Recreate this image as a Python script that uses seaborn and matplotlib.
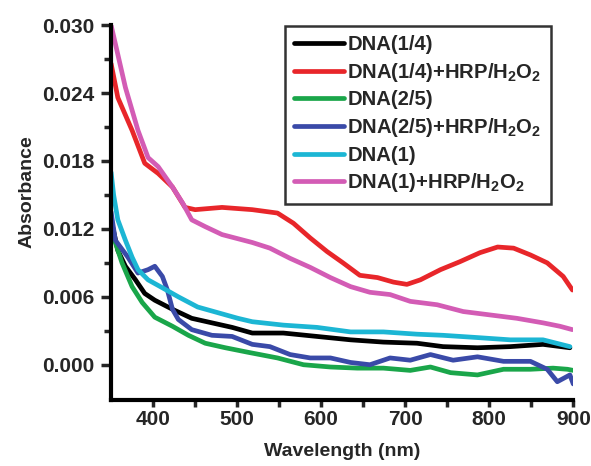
import numpy as np
import pandas as pd
import matplotlib
matplotlib.use("Agg")
import matplotlib.pyplot as plt
import seaborn as sns

# ---- data ----
wl_red = [350, 358, 375, 390, 406, 423, 438, 450, 482, 518, 548, 567, 587, 607, 626, 646, 667, 686, 702,
          718, 742, 765, 789, 810, 829, 849, 869, 888, 899]
abs_red = [0.0266, 0.0236, 0.0207, 0.0178, 0.0169, 0.0157, 0.0139, 0.0137, 0.0139, 0.0137, 0.0134, 0.0125,
           0.0112, 0.0100, 0.0090, 0.0079, 0.0077, 0.0073, 0.0071, 0.0075, 0.0084, 0.0091, 0.0099, 0.0104,
           0.0103, 0.0097, 0.0090, 0.0078, 0.0066]

wl_pink = [350, 367, 382, 394, 406, 423, 435, 446, 462, 482, 518, 539, 563, 587, 611, 635, 658, 682, 706,
           738, 769, 801, 833, 864, 884, 899]
abs_pink = [0.0300, 0.0245, 0.0207, 0.0183, 0.0175, 0.0157, 0.0143, 0.0128, 0.0122, 0.0115, 0.0108, 0.0103,
            0.0094, 0.0086, 0.0077, 0.0069, 0.0064, 0.0062, 0.0056, 0.0053, 0.0047, 0.0044, 0.0041, 0.0037,
            0.0034, 0.0031]

wl_cyan = [350, 353, 358, 367, 375, 382, 394, 411, 430, 453, 477, 501, 518, 555, 595, 635, 674, 714, 745,
           786, 825, 864, 896]
abs_cyan = [0.0170, 0.0150, 0.0128, 0.0110, 0.0095, 0.0084, 0.0075, 0.0068, 0.0060, 0.0051, 0.0046, 0.0041,
            0.0038, 0.0035, 0.0033, 0.0029, 0.0029, 0.0027, 0.0026, 0.0024, 0.0022, 0.0022, 0.0016]

wl_black = [350, 358, 367, 379, 390, 402, 423, 446, 470, 494, 518, 555, 595, 635, 674, 714, 745, 786, 825,
            864, 896]
abs_black = [0.0128, 0.0101, 0.0087, 0.0075, 0.0063, 0.0057, 0.0049, 0.0041, 0.0037, 0.0033, 0.0028, 0.0028,
             0.0025, 0.0022, 0.0020, 0.0019, 0.0016, 0.0015, 0.0016, 0.0018, 0.0015]

wl_green = [350, 355, 363, 375, 387, 402, 423, 442, 462, 486, 513, 548, 579, 611, 643, 674, 706, 730, 754,
            786, 817, 849, 876, 893, 900]
abs_green = [0.0125, 0.0108, 0.0090, 0.0069, 0.0055, 0.0042, 0.0034, 0.0026, 0.0019, 0.0015, 0.0011, 0.0006,
             0.0000, -0.0002, -0.0003, -0.0003, -0.0005, -0.0002, -0.0007, -0.0009, -0.0004, -0.0004,
             -0.0003, -0.0004, -0.0005]

wl_blue = [350, 355, 370, 382, 394, 402, 411, 417, 423, 430, 446, 470, 494, 518, 539, 563, 587, 611, 635,
           658, 682, 706, 730, 757, 786, 817, 849, 869, 881, 896, 900]
abs_blue = [0.0135, 0.0110, 0.0095, 0.0081, 0.0084, 0.0087, 0.0078, 0.0066, 0.0049, 0.0040, 0.0031, 0.0026,
            0.0025, 0.0018, 0.0016, 0.0009, 0.0006, 0.0006, 0.0002, 0.0000, 0.0006, 0.0004, 0.0009, 0.0004,
            0.0007, 0.0003, 0.0003, -0.0004, -0.0015, -0.0009, -0.0017]

labels = ["DNA(1/4)", "DNA(1/4)+HRP/H$_2$O$_2$", "DNA(2/5)", "DNA(2/5)+HRP/H$_2$O$_2$",
          "DNA(1)", "DNA(1)+HRP/H$_2$O$_2$"]
colors = ["#000000", "#e8262a", "#1aa64a", "#3a4aa8", "#1cb6d4", "#d35cb5"]
series = [(wl_black, abs_black), (wl_red, abs_red), (wl_green, abs_green),
          (wl_blue, abs_blue), (wl_cyan, abs_cyan), (wl_pink, abs_pink)]

x_ticks = [400, 500, 600, 700, 800, 900]
y_ticks = [0.000, 0.006, 0.012, 0.018, 0.024, 0.030]

# ---- plotting ----
sns.set_theme(style="ticks")
plt.rcParams["font.family"] = ["Liberation Sans", "DejaVu Sans"]
plt.rcParams["font.weight"] = "bold"
plt.rcParams["mathtext.default"] = "bf"
plt.rcParams["mathtext.fontset"] = "custom"
plt.rcParams["mathtext.bf"] = "Liberation Sans:bold"
plt.rcParams["mathtext.rm"] = "Liberation Sans:bold"

fig = plt.figure(figsize=(5.91, 4.66), dpi=100)
ax = fig.add_axes([0.188, 0.142, 0.782, 0.804])

for (wl, ab), lab, col in zip(series, labels, colors):
    df = pd.DataFrame({"wl": wl, "abs": ab})
    sns.lineplot(data=df, x="wl", y="abs", ax=ax, color=col, lw=3.4, label=lab, sort=False)

ax.set_xlim(350, 900)
ax.set_ylim(-0.0031, 0.030)
ax.set_xticks(x_ticks)
ax.set_yticks(y_ticks)
ax.set_yticklabels([f"{v:.3f}" for v in y_ticks])
ax.set_xticks([450, 550, 650, 750, 850], minor=True)
ax.set_yticks([0.003, 0.009, 0.015, 0.021, 0.027], minor=True)
ax.tick_params(axis="y", which="major", direction="out", length=7, width=2.5, labelsize=15, pad=5)
ax.tick_params(axis="x", which="major", direction="out", length=5, width=2.5, labelsize=15, pad=2)
ax.tick_params(axis="both", which="minor", direction="out", length=5, width=2.5)
for lbl in ax.get_xticklabels() + ax.get_yticklabels():
    lbl.set_fontweight("bold")

sns.despine(ax=ax)
for s in ["left", "bottom"]:
    ax.spines[s].set_linewidth(3)
    ax.spines[s].set_color("black")

ax.set_xlabel("Wavelength (nm)", fontsize=14, fontweight="bold", labelpad=10.5)
ax.set_ylabel("Absorbance", fontsize=14, fontweight="bold", labelpad=5, y=0.557)

leg = ax.legend(loc="upper right", bbox_to_anchor=(0.951, 0.998), fontsize=14.6, frameon=True,
                fancybox=False, edgecolor="black", handlelength=2.46, handletextpad=0.15,
                labelspacing=0.33, borderpad=0.45, borderaxespad=0.0)
leg.get_frame().set_linewidth(1.8)
for t in leg.get_texts():
    t.set_fontweight("bold")
for h in leg.get_lines():
    h.set_linewidth(3.4)

fig.savefig("out.png", dpi=100)
